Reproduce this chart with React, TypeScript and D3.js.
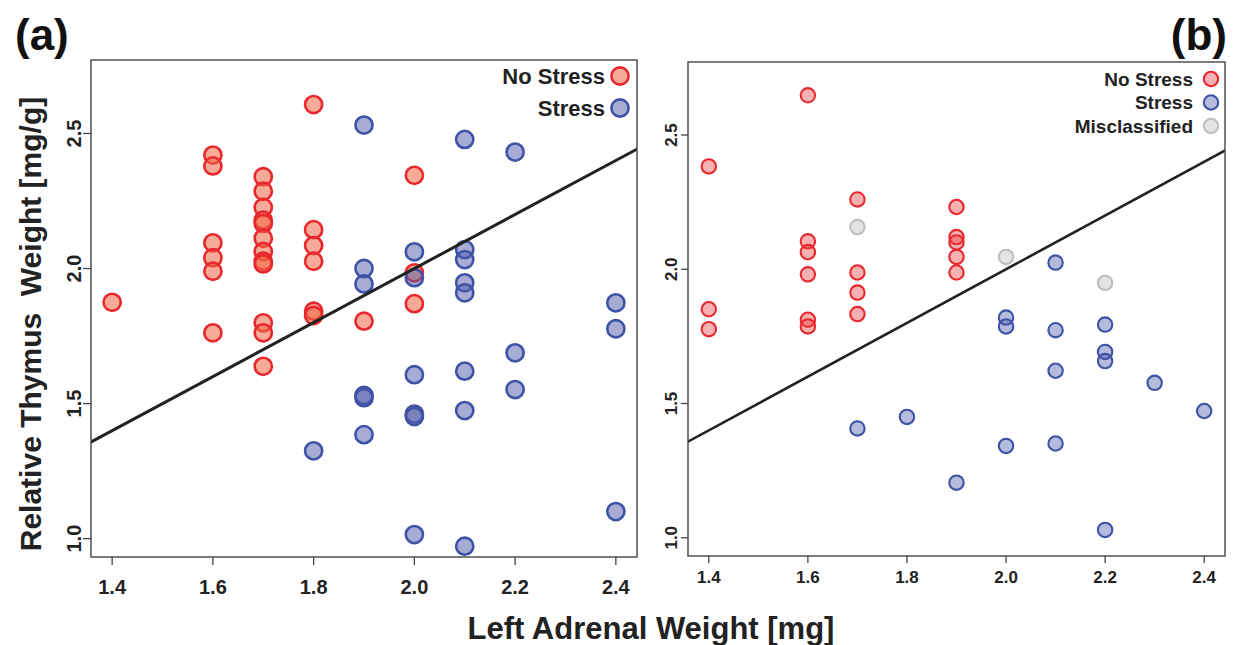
import React from "react";
import * as d3 from "d3";

// ---------- Data ----------
const X_TICKS = [1.4, 1.6, 1.8, 2.0, 2.2, 2.4];
const Y_TICKS = [1.0, 1.5, 2.0, 2.5];
const X_DOMAIN = [1.358, 2.442];
const Y_DOMAIN = [0.932, 2.772];

// Panel (a): [x, y]
const A_NO_STRESS: [number, number][] = [
  [1.4, 1.875],
  [1.6, 2.42], [1.6, 2.38], [1.6, 2.095], [1.6, 2.04], [1.6, 1.99], [1.6, 1.762],
  [1.7, 2.34], [1.7, 2.286], [1.7, 2.226], [1.7, 2.179], [1.7, 2.167], [1.7, 2.112],
  [1.7, 2.063], [1.7, 2.027], [1.7, 2.017], [1.7, 1.799], [1.7, 1.762], [1.7, 1.638],
  [1.8, 2.607], [1.8, 2.144], [1.8, 2.085], [1.8, 2.027], [1.8, 1.842], [1.8, 1.826],
  [1.9, 1.805],
  [2.0, 2.345], [2.0, 1.984], [2.0, 1.87],
];
const A_STRESS: [number, number][] = [
  [1.8, 1.325],
  [1.9, 2.531], [1.9, 2.0], [1.9, 1.943], [1.9, 1.53], [1.9, 1.522], [1.9, 1.385],
  [2.0, 2.062], [2.0, 1.966], [2.0, 1.607], [2.0, 1.461], [2.0, 1.452], [2.0, 1.015],
  [2.1, 2.478], [2.1, 2.07], [2.1, 2.033], [2.1, 1.947], [2.1, 1.91], [2.1, 1.62], [2.1, 1.474], [2.1, 0.972],
  [2.2, 2.431], [2.2, 1.688], [2.2, 1.552],
  [2.4, 1.873], [2.4, 1.777], [2.4, 1.1],
];

// Panel (b): [x, y]
const B_NO_STRESS: [number, number][] = [
  [1.4, 2.383], [1.4, 1.851], [1.4, 1.777],
  [1.6, 2.648], [1.6, 2.104], [1.6, 2.064], [1.6, 1.981], [1.6, 1.812], [1.6, 1.787],
  [1.7, 2.26], [1.7, 1.988], [1.7, 1.913], [1.7, 1.833],
  [1.9, 2.232], [1.9, 2.12], [1.9, 2.1], [1.9, 2.046], [1.9, 1.988],
];
const B_STRESS: [number, number][] = [
  [1.7, 1.407], [1.8, 1.45], [1.9, 1.205],
  [2.0, 1.82], [2.0, 1.787], [2.0, 1.342],
  [2.1, 2.025], [2.1, 1.773], [2.1, 1.622], [2.1, 1.351],
  [2.2, 1.794], [2.2, 1.692], [2.2, 1.658], [2.2, 1.029],
  [2.3, 1.577], [2.4, 1.472],
];
const B_MISCLASSIFIED: [number, number][] = [
  [1.7, 2.157], [2.0, 2.046], [2.2, 1.949],
];

// Decision line y = intercept + slope * x
const LINE_INTERCEPT = 0.0;
const LINE_SLOPE = 1.0;

const LEGEND_A = ["No Stress", "Stress"];
const LEGEND_B = ["No Stress", "Stress", "Misclassified"];

// ---------- Styles ----------
const FONT = "'Liberation Sans', Arial, Helvetica, sans-serif";
const TEXT = "#222";

const styleA = {
  red: { stroke: "#E8282D", fill: "rgb(240,100,65)", fillOpacity: 0.55 },
  blue: { stroke: "#3E52A6", fill: "rgb(80,90,170)", fillOpacity: 0.5 },
};
const styleB = {
  red: { stroke: "#E8282D", fill: "rgb(235,60,65)", fillOpacity: 0.4 },
  blue: { stroke: "#3E52A6", fill: "rgb(70,85,165)", fillOpacity: 0.4 },
  gray: { stroke: "#BEBEBE", fill: "#E4E4E4", fillOpacity: 1 },
};

type Sty = { stroke: string; fill: string; fillOpacity: number };

interface PanelProps {
  left: number; right: number; top: number; bottom: number;
  groups: { data: [number, number][]; sty: Sty }[];
  r: number; sw: number; lineW: number;
  tickFont: number; xLabelY: number; yLabelX: number; tickLen: number;
  legend: { label: string; sty: Sty }[];
  legendTextX: number; legendCircleX: number; legendY0: number; legendDy: number; legendFont: number;
}

function Panel(p: PanelProps) {
  const x = d3.scaleLinear().domain(X_DOMAIN).range([p.left, p.right]);
  const y = d3.scaleLinear().domain(Y_DOMAIN).range([p.bottom, p.top]);
  const lineGen = d3.line<number>().x((v) => x(v)).y((v) => y(LINE_INTERCEPT + LINE_SLOPE * v));
  const clipId = `clip-${p.left}`;
  return (
    <g>
      <defs>
        <clipPath id={clipId}>
          <rect x={p.left} y={p.top} width={p.right - p.left} height={p.bottom - p.top} />
        </clipPath>
      </defs>
      {X_TICKS.map((t) => (
        <g key={"x" + t}>
          <line x1={x(t)} x2={x(t)} y1={p.bottom} y2={p.bottom + p.tickLen} stroke="#444" strokeWidth={1.3} />
          <text x={x(t)} y={p.xLabelY} textAnchor="middle" dominantBaseline="central"
            fontFamily={FONT} fontWeight="bold" fontSize={p.tickFont} fill={TEXT}>
            {t.toFixed(1)}
          </text>
        </g>
      ))}
      {Y_TICKS.map((t) => (
        <g key={"y" + t}>
          <line x1={p.left - p.tickLen} x2={p.left} y1={y(t)} y2={y(t)} stroke="#444" strokeWidth={1.3} />
          <text transform={`translate(${p.yLabelX},${y(t)}) rotate(-90)`} textAnchor="middle" dominantBaseline="central"
            fontFamily={FONT} fontWeight="bold" fontSize={p.tickFont} fill={TEXT}>
            {t.toFixed(1)}
          </text>
        </g>
      ))}
      <g clipPath={`url(#${clipId})`}>
        {p.groups.map((g, gi) =>
          g.data.map((d, i) => (
            <circle key={gi + "-" + i} cx={x(d[0])} cy={y(d[1])} r={p.r}
              fill={g.sty.fill} fillOpacity={g.sty.fillOpacity} stroke={g.sty.stroke} strokeWidth={p.sw} />
          ))
        )}
        <path d={lineGen([X_DOMAIN[0] - 0.1, X_DOMAIN[1] + 0.1]) || ""} fill="none" stroke="#222" strokeWidth={p.lineW} />
      </g>
      <rect x={p.left} y={p.top} width={p.right - p.left} height={p.bottom - p.top}
        fill="none" stroke="#444" strokeWidth={1.4} />
      {p.legend.map((l, i) => (
        <g key={"lg" + i}>
          <text x={p.legendTextX} y={p.legendY0 + i * p.legendDy} textAnchor="end" dominantBaseline="central"
            fontFamily={FONT} fontWeight="bold" fontSize={p.legendFont} fill={TEXT}>
            {l.label}
          </text>
          <circle cx={p.legendCircleX} cy={p.legendY0 + i * p.legendDy} r={p.r}
            fill={l.sty.fill} fillOpacity={l.sty.fillOpacity} stroke={l.sty.stroke} strokeWidth={p.sw} />
        </g>
      ))}
    </g>
  );
}

export default function App() {
  return (
    <svg width={1236} height={645} style={{ position: "absolute", left: 0, top: 0, background: "#fff" }}>
      <rect x={0} y={0} width={1236} height={645} fill="#fff" />
      <text x={15} y={34} dominantBaseline="central" fontFamily={FONT} fontWeight="bold" fontSize={44} fill="#111">(a)</text>
      <text x={1227} y={34} textAnchor="end" dominantBaseline="central" fontFamily={FONT} fontWeight="bold" fontSize={44} fill="#111">(b)</text>
      <Panel
        left={91} right={637} top={60} bottom={557}
        groups={[{ data: A_NO_STRESS, sty: styleA.red }, { data: A_STRESS, sty: styleA.blue }]}
        r={8.6} sw={2.6} lineW={3}
        tickFont={20} xLabelY={587} yLabelX={74} tickLen={8}
        legend={[{ label: LEGEND_A[0], sty: styleA.red }, { label: LEGEND_A[1], sty: styleA.blue }]}
        legendTextX={605} legendCircleX={620} legendY0={76} legendDy={32} legendFont={22}
      />
      <Panel
        left={688} right={1225} top={62} bottom={556}
        groups={[{ data: B_NO_STRESS, sty: styleB.red }, { data: B_STRESS, sty: styleB.blue }, { data: B_MISCLASSIFIED, sty: styleB.gray }]}
        r={7.2} sw={2.1} lineW={2.6}
        tickFont={17} xLabelY={577} yLabelX={671} tickLen={7}
        legend={[{ label: LEGEND_B[0], sty: styleB.red }, { label: LEGEND_B[1], sty: styleB.blue }, { label: LEGEND_B[2], sty: styleB.gray }]}
        legendTextX={1193} legendCircleX={1211} legendY0={79} legendDy={23.5} legendFont={19}
      />
      <text transform="translate(30,324) rotate(-90)" textAnchor="middle" dominantBaseline="central"
        fontFamily={FONT} fontWeight="bold" fontSize={30} fill={TEXT} style={{ whiteSpace: "pre" }}>
        {"Relative Thymus  Weight [mg/g]"}
      </text>
      <text x={651} y={628} textAnchor="middle" dominantBaseline="central"
        fontFamily={FONT} fontWeight="bold" fontSize={31} fill={TEXT}>
        Left Adrenal Weight [mg]
      </text>
    </svg>
  );
}
